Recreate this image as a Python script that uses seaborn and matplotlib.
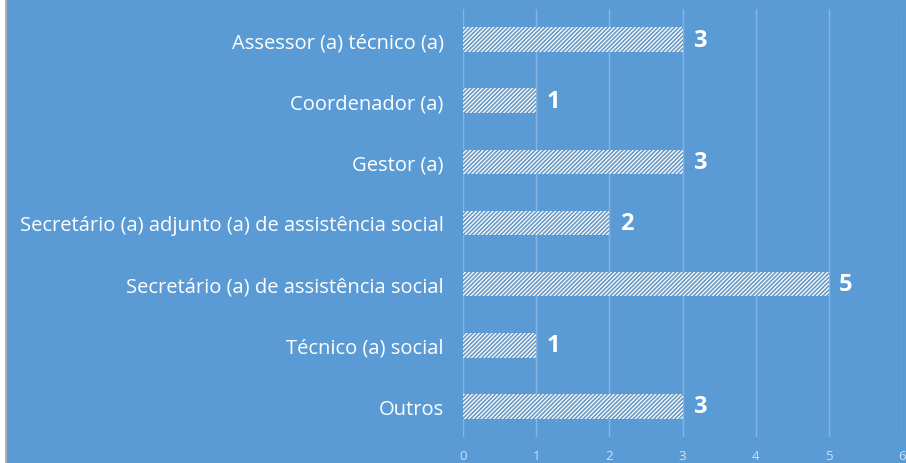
import matplotlib
matplotlib.use("Agg")
import matplotlib.pyplot as plt
import seaborn as sns
import pandas as pd
from matplotlib.patches import Rectangle
from matplotlib.lines import Line2D

categorias = [
    "Assessor (a) técnico (a)",
    "Coordenador (a)",
    "Gestor (a)",
    "Secretário (a) adjunto (a) de assistência social",
    "Secretário (a) de assistência social",
    "Técnico (a) social",
    "Outros",
]
valores = [3, 1, 3, 2, 5, 1, 3]
ticks_x = [0, 1, 2, 3, 4, 5, 6]

azul = "#5B9BD5"

sns.set_theme(style="white")
plt.rcParams["font.family"] = ["Open Sans", "DejaVu Sans"]
plt.rcParams["hatch.color"] = "white"
plt.rcParams["hatch.linewidth"] = 0.9

df = pd.DataFrame({"cargo": categorias, "n": valores})

fig = plt.figure(figsize=(9.06, 4.64), dpi=100, facecolor=azul)
ax = fig.add_axes([463 / 906, 26 / 464, 439 / 906, 428 / 464])
ax.set_facecolor(azul)

sns.barplot(data=df, x="n", y="cargo", order=categorias, ax=ax,
            color=azul, width=0.4, edgecolor="white", linewidth=0,
            hatch="////////")

# Rótulos de valor
for i, v in enumerate(valores):
    ax.text(v + 0.14, i, str(v), color="white", fontsize=17, fontweight="bold",
            ha="left", va="center")

ax.set_xlim(0, 6)
ax.set_xticks(ticks_x)
ax.grid(axis="x", color="white", alpha=0.25, linewidth=1)
ax.set_axisbelow(True)
ax.tick_params(axis="x", length=0, pad=9, labelsize=9.5, labelcolor=(1, 1, 1, 0.7))
ax.tick_params(axis="y", length=0, pad=14, labelsize=14.5, labelcolor="white")
ax.set_xlabel("")
ax.set_ylabel("")
sns.despine(ax=ax, left=True, bottom=True)

# Borda esquerda do recorte
fig.patches.append(Rectangle((0, 0), 5 / 906, 1, transform=fig.transFigure,
                             facecolor="white", edgecolor="none"))
fig.lines.append(Line2D([5.5 / 906, 5.5 / 906], [0, 1], transform=fig.transFigure,
                        color="#B8B8B8", linewidth=1.2))

fig.savefig("out.png", dpi=100, facecolor=azul)
